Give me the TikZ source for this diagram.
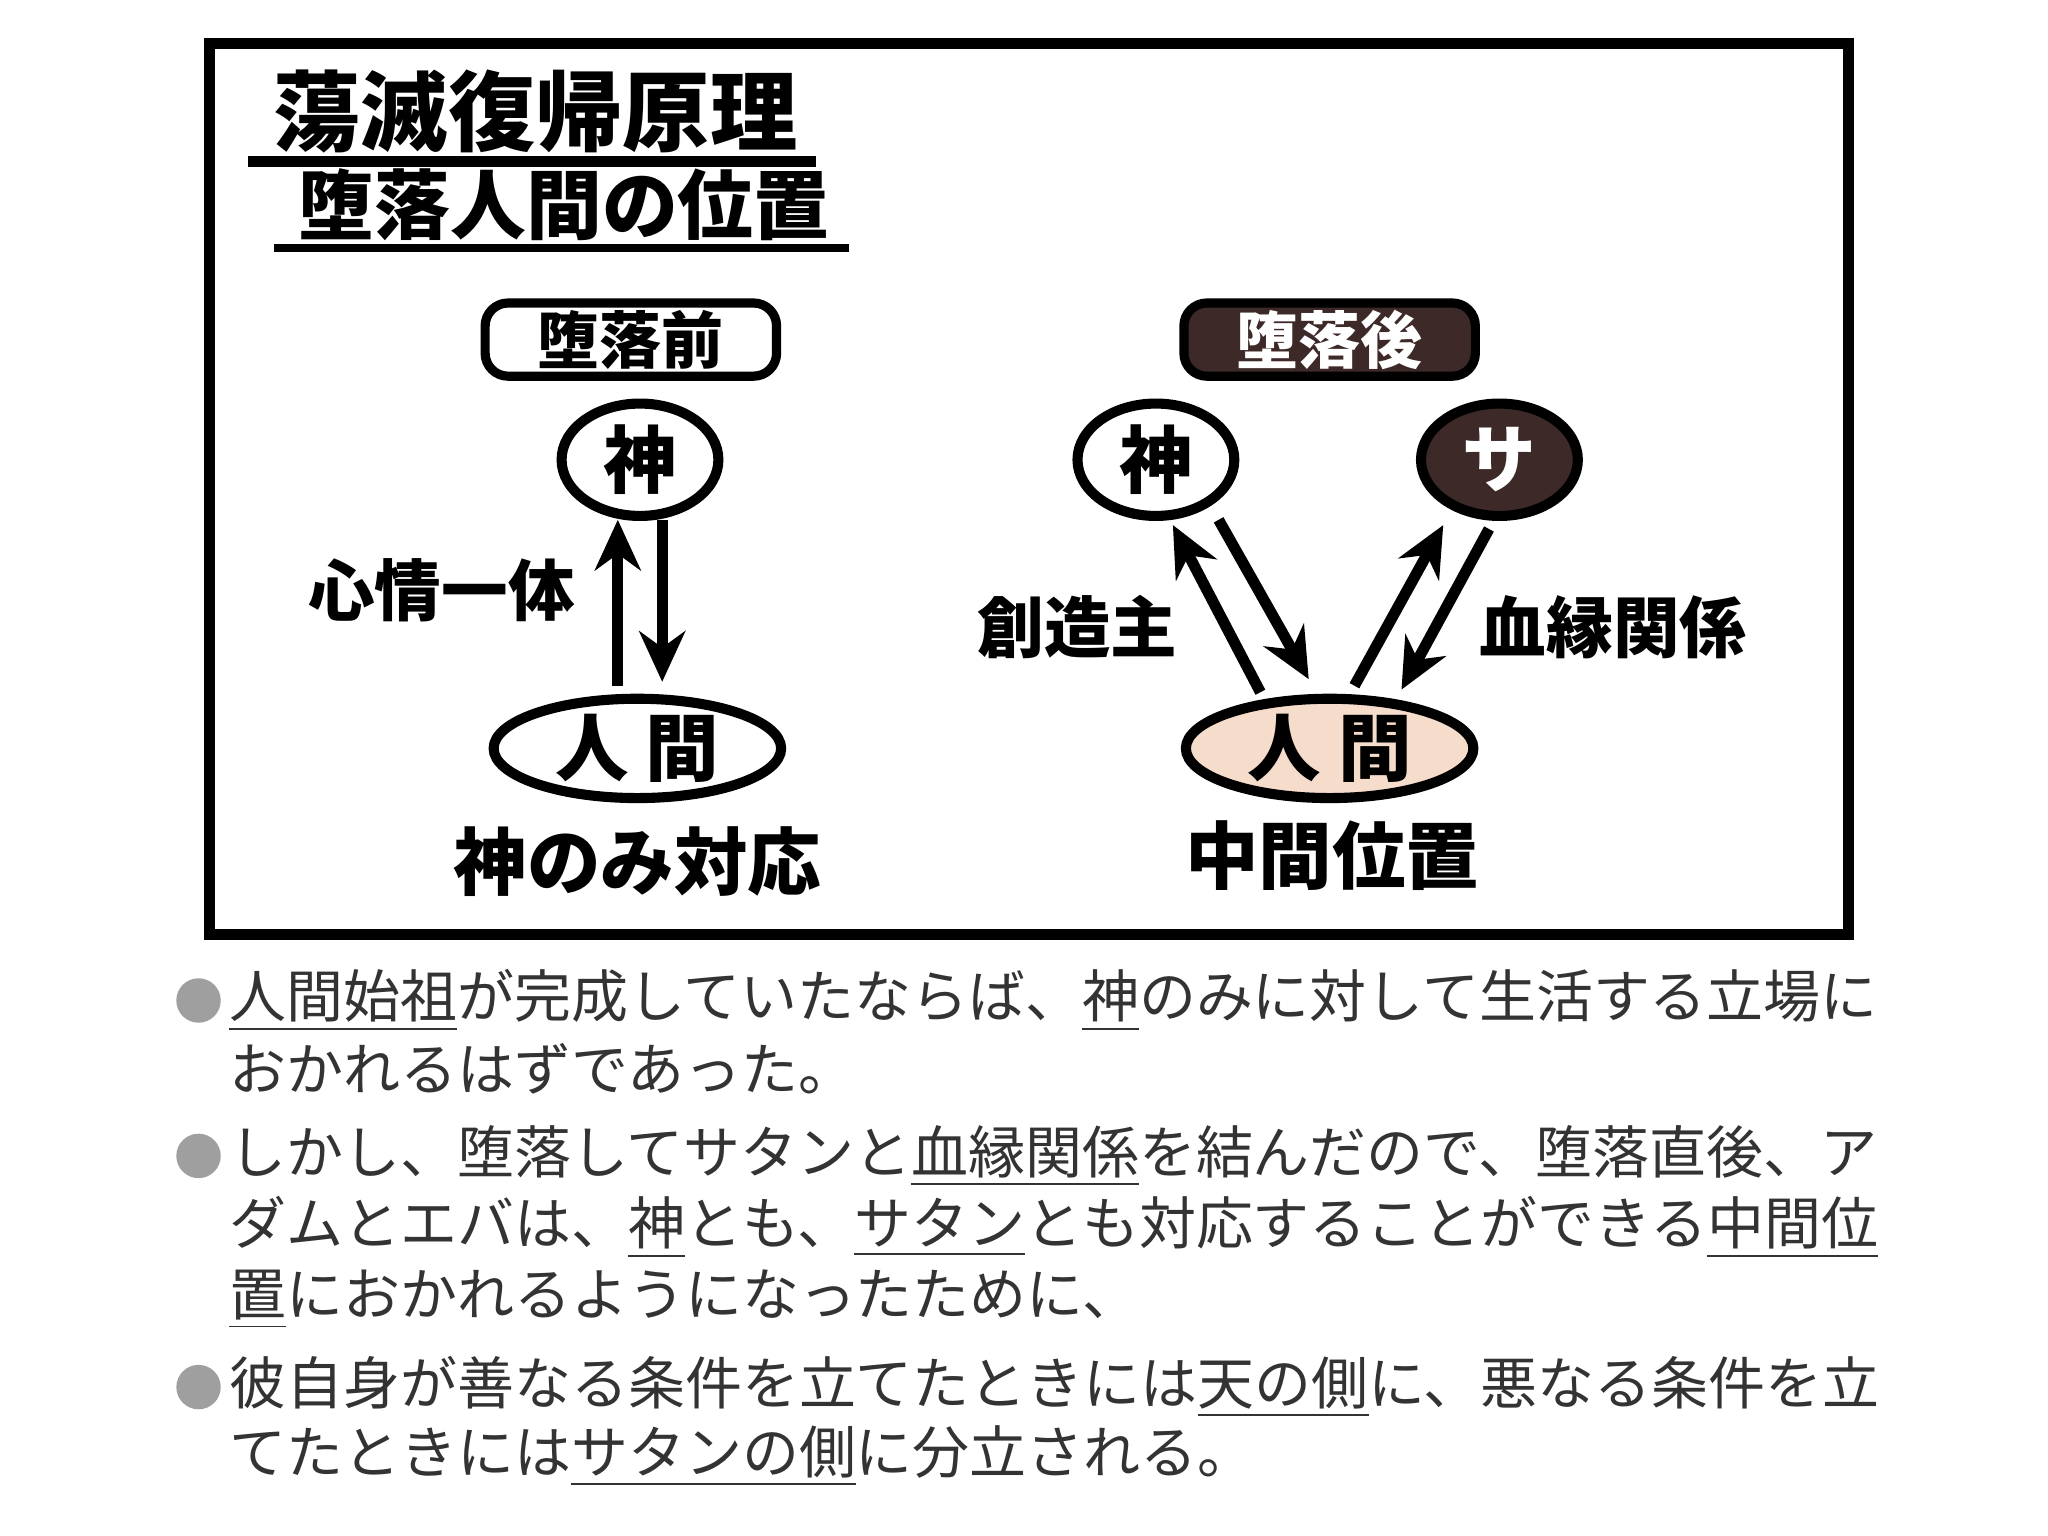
\documentclass[tikz,border=0pt]{standalone}
\usepackage{fontspec}
\setmainfont{Noto Sans CJK JP}
\usetikzlibrary{arrows.meta,shapes.geometric}
\definecolor{darkb}{HTML}{3D2A28}
\definecolor{skin}{HTML}{F6DCCB}
\definecolor{txt}{HTML}{333333}
\newcommand{\fs}[1]{\fontsize{#1}{#1}\selectfont}
\newcommand{\ulx}[1]{\underline{#1}}
\begin{document}
\begin{tikzpicture}[x=0.01cm,y=-0.01cm,
  ell/.style={ellipse,draw,line width=2.2pt,inner sep=0pt,font=\fs{16pt}\bfseries},
  lab/.style={font=\fs{14.5pt}\bfseries},
  arr/.style={line width=2.4pt,-{Stealth[length=11pt,width=10pt]}},
  para/.style={anchor=west,inner sep=0pt,font=\fs{12.4pt},text=txt},
  bul/.style={circle,fill=gray!75,inner sep=0pt,minimum size=0.34cm},
  tbox/.style={draw,rounded corners=5pt,line width=2pt,minimum width=2.23cm,minimum height=0.56cm,inner sep=0pt,font=\fs{13.5pt}\bfseries}]
\fill[white] (0,0) rectangle (1568,1176);
\node[draw,line width=2.4pt,minimum width=12.54cm,minimum height=6.82cm,anchor=north west] (frame) at (156,29) {};
\node[font=\fs{19pt}\bfseries] (title) at (410,85) {蕩滅復帰原理};
\draw[line width=2.4pt] (190,124) -- (625,124);
\node[font=\fs{16.5pt}\bfseries] (sub) at (432,157) {堕落人間の位置};
\draw[line width=1.6pt] (210,190) -- (650,190);
\node[tbox] (pre) at (483,260) {堕落前};
\node[tbox,fill=darkb,text=white] (post) at (1018,260) {堕落後};
% left
\node[ell,minimum width=1.2cm,minimum height=0.86cm] (g1) at (490,352) {神};
\node[ell,minimum width=2.2cm,minimum height=0.76cm] (h1) at (488,573) {人\ 間};
\coordinate (a1) at (473,525); \coordinate (b1) at (473,398);
\coordinate (a2) at (507,398); \coordinate (b2) at (507,522);
\draw[arr] (a1) -- (b1);
\draw[arr] (a2) -- (b2);
\node[lab] (l1) at (338,452) {心情一体};
\node[font=\fs{16pt}\bfseries] (c1) at (488,660) {神のみ対応};
% right
\node[ell,minimum width=1.2cm,minimum height=0.86cm] (g2) at (885,352) {神};
\node[ell,fill=darkb,text=white,minimum width=1.2cm,minimum height=0.86cm] (s2) at (1148,352) {サ};
\node[ell,fill=skin,minimum width=2.2cm,minimum height=0.76cm] (h2) at (1018,573) {人\ 間};
\coordinate (p1) at (965,530); \coordinate (q1) at (898,402);
\coordinate (p2) at (933,398); \coordinate (q2) at (1002,520);
\coordinate (p3) at (1037,525); \coordinate (q3) at (1105,402);
\coordinate (p4) at (1140,405); \coordinate (q4) at (1073,528);
\draw[arr] (p1) -- (q1);
\draw[arr] (p2) -- (q2);
\draw[arr] (p3) -- (q3);
\draw[arr] (p4) -- (q4);
\node[lab] (l2) at (825,480) {創造主};
\node[lab] (l3) at (1235,480) {血縁関係};
\node[font=\fs{16pt}\bfseries] (c2) at (1020,655) {中間位置};
% text
\node[bul] (d1) at (152,766) {};
\node[para] (t1) at (175,766) {\ulx{人間始祖}が完成していたならば、\ulx{神}のみに対して生活する立場に};
\node[para] (t2) at (175,818) {おかれるはずであった。};
\node[bul] (d2) at (152,885) {};
\node[para] (t3) at (175,885) {しかし、堕落してサタンと\ulx{血縁関係}を結んだので、堕落直後、ア};
\node[para] (t4) at (175,940) {ダムとエバは、\ulx{神}とも、\ulx{サタン}とも対応することができる\ulx{中間位}};
\node[para] (t5) at (175,995) {\ulx{置}におかれるようになったために、};
\node[bul] (d3) at (152,1062) {};
\node[para] (t6) at (175,1062) {彼自身が善なる条件を立てたときには\ulx{天の側}に、悪なる条件を立};
\node[para] (t7) at (175,1115) {てたときには\ulx{サタンの側}に分立される。};
\end{tikzpicture}
\end{document}
